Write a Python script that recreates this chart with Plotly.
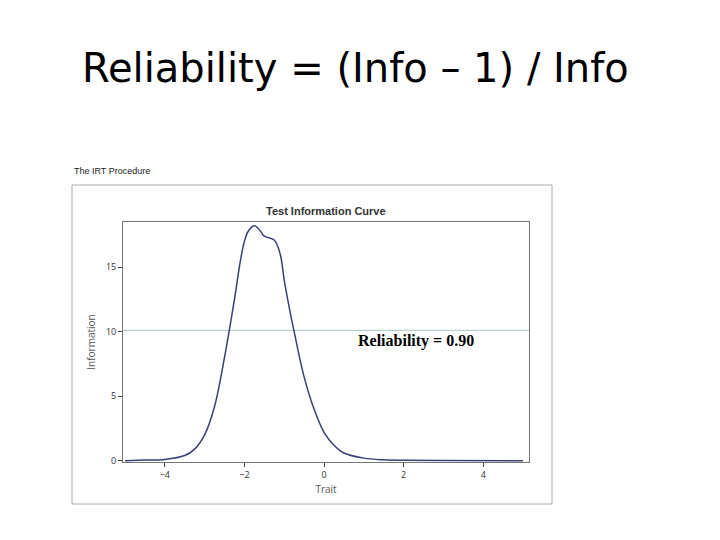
import plotly.graph_objects as go

trait = [-5, -4.5, -4, -3.5, -3.25, -3, -2.75, -2.5, -2.25, -2.1, -2, -1.9, -1.75,
         -1.6, -1.5, -1.25, -1.1, -1, -0.85, -0.75, -0.5, -0.25, 0, 0.25, 0.5, 1,
         1.5, 2, 3, 5]
info = [0, 0.05, 0.1, 0.4, 0.9, 2, 4.2, 8, 12.5, 15.5, 17, 17.8, 18.2,
        17.8, 17.4, 17.1, 16, 14, 11.5, 10, 6.5, 4, 2.2, 1.2, 0.6, 0.2,
        0.07, 0.03, 0.01, 0]
ref_info = 10.1
ref_x = [-5.05, 5.15]

OFF = 8  # page offset
L, R, T, B = 123 - OFF, 529 - OFF, 222 - OFF, 462 - OFF
def px(x):
    return (x - OFF - L) / (R - L)
def py(y):
    return (B - (y - OFF)) / (B - T)

fig = go.Figure()
fig.add_trace(go.Scatter(x=ref_x, y=[ref_info, ref_info], mode='lines',
                         line=dict(color='#a9c6cc', width=1), showlegend=False))
fig.add_trace(go.Scatter(x=trait, y=info, mode='lines', line=dict(color='#3a3f7a', width=1.5, shape='spline'),
                         showlegend=False))

fig.update_layout(
    width=720, height=540, paper_bgcolor='white', plot_bgcolor='white',
    margin=dict(l=L, r=720 - R, t=T, b=540 - B),
    xaxis=dict(range=ref_x, tickvals=[-4, -2, 0, 2, 4], ticks='outside', ticklen=4,
               showgrid=False, zeroline=False, showline=True, linecolor='#777', mirror=True,
               tickfont=dict(size=9, color='#333'),
               title=dict(text='Trait', font=dict(size=10, color='#555'), standoff=6)),
    yaxis=dict(range=[-0.1, 18.5], tickvals=[0, 5, 10, 15], ticks='outside', ticklen=4,
               showgrid=False, zeroline=False, showline=True, linecolor='#777', mirror=True,
               tickfont=dict(size=9, color='#333'),
               title=dict(text='Information', font=dict(size=10, color='#555'), standoff=8)),
    shapes=[dict(type='rect', xref='paper', yref='paper', x0=px(72), x1=px(552), y0=py(504), y1=py(185),
                 line=dict(color='#aaa', width=1))],
    annotations=[
        dict(text='Reliability = (Info – 1) / Info', xref='paper', yref='paper', x=px(355), y=py(68),
             xanchor='center', yanchor='middle',
             showarrow=False, font=dict(family='DejaVu Sans', size=40, color='black')),
        dict(text='The IRT Procedure', xref='paper', yref='paper', x=px(72), y=py(171),
             xanchor='left', yanchor='middle',
             showarrow=False, font=dict(family='Liberation Sans', size=9, color='#222')),
        dict(text='<b>Test Information Curve</b>', xref='paper', yref='paper', x=px(326), y=py(211),
             xanchor='center', yanchor='middle',
             showarrow=False, font=dict(family='Liberation Sans', size=11, color='#333')),
        dict(text='<b>Reliability = 0.90</b>', xref='paper', yref='paper', x=px(416), y=py(341),
             xanchor='center', yanchor='middle',
             showarrow=False, font=dict(family='Liberation Serif', size=16, color='black')),
    ],
)
fig.write_html('out.html')
